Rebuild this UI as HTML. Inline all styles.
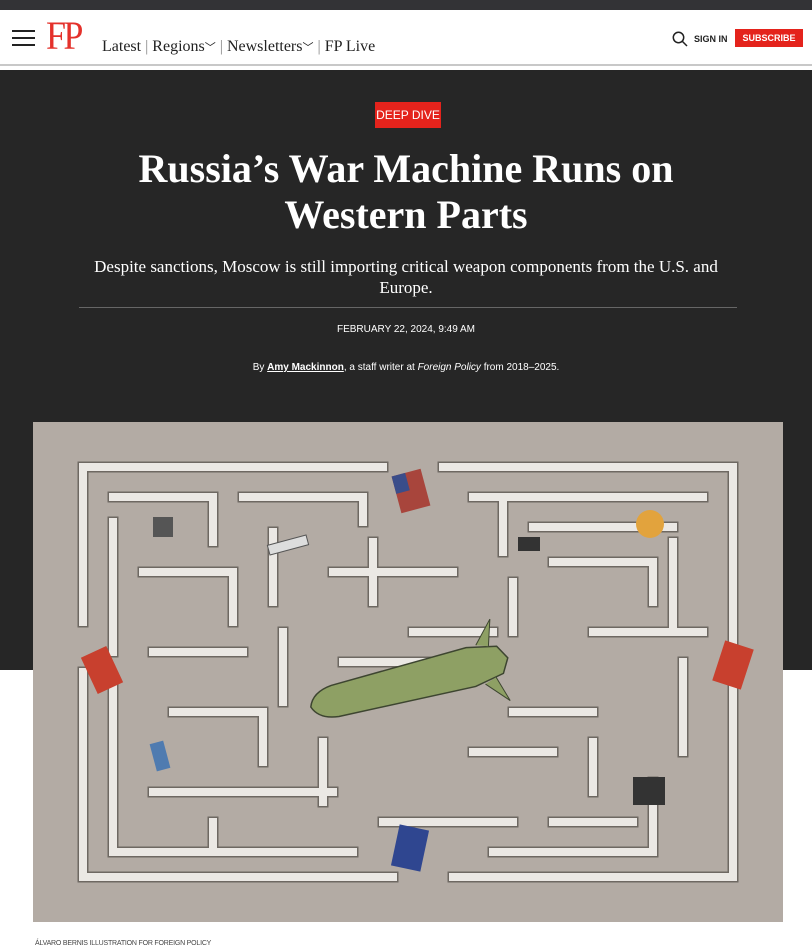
<!DOCTYPE html>
<html><head><meta charset="utf-8"><style>
*{margin:0;padding:0;box-sizing:border-box}
body{width:812px;height:950px;background:#fff;position:relative;overflow:hidden;font-family:"Liberation Serif",serif}
.top{position:absolute;left:0;top:0;width:812px;height:10px;background:#333336}
.hdr{position:absolute;left:0;top:10px;width:812px;height:56px;background:#fff;border-bottom:2px solid #c8c8c8}
.dark{position:absolute;left:0;top:70px;width:812px;height:600px;background:#262626}
.nav{position:absolute;top:37px;font-size:16px;color:#222}
.c{position:absolute;left:0;width:812px;text-align:center;color:#fff}
</style></head><body>
<div class="top"></div>
<div class="hdr">
 <div style="position:absolute;left:12px;top:20px;width:23px;height:2px;background:#222;box-shadow:0 7px 0 #222,0 14px 0 #222"></div>
 <div style="position:absolute;left:46px;top:6px;font-size:40px;color:#e4312b;letter-spacing:-3px;line-height:40px;transform:scaleX(0.9);transform-origin:left">FP</div>
 <div class="nav" style="left:102px;top:28px">Latest <span style="color:#888">|</span> Regions<span style="font-size:11px">﹀</span> <span style="color:#888">|</span> Newsletters<span style="font-size:11px">﹀</span> <span style="color:#888">|</span> FP Live</div>
 <svg style="position:absolute;left:672px;top:21px" width="16" height="16"><circle cx="6.5" cy="6.5" r="5.2" fill="none" stroke="#222" stroke-width="1.5"/><line x1="10.5" y1="10.5" x2="15" y2="15" stroke="#222" stroke-width="1.5"/></svg>
 <div style="position:absolute;left:694px;top:24px;font:bold 9px 'Liberation Sans',sans-serif;color:#222">SIGN IN</div>
 <div style="position:absolute;left:735px;top:19px;width:68px;height:18px;background:#e4231c;color:#fff;font:bold 9px 'Liberation Sans',sans-serif;text-align:center;line-height:18px">SUBSCRIBE</div>
</div>
<div class="dark"></div>
<div style="position:absolute;left:375px;top:102px;width:66px;height:26px;background:#e4231c;color:#fff;font:12px 'Liberation Sans',sans-serif;text-align:center;line-height:26px">DEEP DIVE</div>
<div class="c" style="top:146px;font-size:40px;font-weight:bold;line-height:46px">Russia’s War Machine Runs on<br>Western Parts</div>
<div class="c" style="top:256px;font-size:17px;line-height:21px;padding:0 80px">Despite sanctions, Moscow is still importing critical weapon components from the U.S. and Europe.</div>
<div style="position:absolute;left:79px;top:307px;width:658px;height:1px;background:#666"></div>
<div class="c" style="top:324px;font:10px 'Liberation Sans',sans-serif">FEBRUARY 22, 2024, 9:49 AM</div>
<div class="c" style="top:362px;font:10px 'Liberation Sans',sans-serif">By <u style="font-weight:bold">Amy Mackinnon</u>, a staff writer at <i>Foreign Policy</i> from 2018–2025.</div>
<svg style="position:absolute;left:33px;top:422px" width="750" height="500" viewBox="0 0 750 500">
<rect width="750" height="500" fill="#b3aba4"/>
<g fill="none" stroke="#6e6862" stroke-width="11" stroke-linecap="square">
<path d="M50 45H350M410 45H700V455H420M360 455H50V250M50 200V45"/>
<path d="M80 75H180V120M210 75H330V100M440 75H670M470 75V130M500 105H640M80 100V230M80 260V430H320M110 150H200V200M240 110V180M120 230H210M250 210V280M140 290H230V340M120 370H300M180 400V430M300 150H420M340 120V180M480 160V210M520 140H620V180M560 210H670M380 210H460M650 240V330M620 360V430M520 400H600M460 430H620M350 400H480M290 320V380M310 240H400M480 290H560M560 320V370M440 330H520M640 120V210"/>
</g>
<g fill="none" stroke="#ebe8e4" stroke-width="8" stroke-linecap="square">
<path d="M50 45H350M410 45H700V455H420M360 455H50V250M50 200V45"/>
<path d="M80 75H180V120M210 75H330V100M440 75H670M470 75V130M500 105H640M80 100V230M80 260V430H320M110 150H200V200M240 110V180M120 230H210M250 210V280M140 290H230V340M120 370H300M180 400V430M300 150H420M340 120V180M480 160V210M520 140H620V180M560 210H670M380 210H460M650 240V330M620 360V430M520 400H600M460 430H620M350 400H480M290 320V380M310 240H400M480 290H560M560 320V370M440 330H520M640 120V210"/>
</g>
<g transform="rotate(-14 370 262)">
<path d="M275 262 Q280 248 300 246 L440 242 L470 248 L478 262 L470 276 L440 282 L300 278 Q280 276 275 262Z" fill="#8ea064" stroke="#3d4530" stroke-width="1.5"/>
<path d="M450 242 L470 220 L462 246M450 282 L470 304 L462 278" fill="#8ea064" stroke="#3d4530"/>
</g>
<rect x="55" y="228" width="28" height="40" fill="#c8402e" transform="rotate(-25 69 248)"/>
<rect x="685" y="222" width="30" height="42" fill="#c8402e" transform="rotate(18 700 243)"/>
<rect x="363" y="50" width="30" height="38" fill="#a8453c" transform="rotate(-15 378 69)"/>
<rect x="363" y="50" width="14" height="18" fill="#3a4d8a" transform="rotate(-15 378 69)"/>
<rect x="362" y="405" width="30" height="42" fill="#2f4690" transform="rotate(12 377 426)"/>
<rect x="120" y="95" width="20" height="20" fill="#555"/>
<ellipse cx="617" cy="102" rx="14" ry="14" fill="#e2a33d"/>
<rect x="120" y="320" width="14" height="28" fill="#4f7bb0" transform="rotate(-15 127 334)"/>
<rect x="600" y="355" width="32" height="28" fill="#333"/>
<rect x="485" y="115" width="22" height="14" fill="#333"/>
<rect x="235" y="118" width="40" height="10" fill="#ddd" stroke="#555" transform="rotate(-15 255 123)"/>
</svg>
<div style="position:absolute;left:35px;top:940px;font:7px 'Liberation Sans',sans-serif;color:#444;letter-spacing:-0.2px">ÁLVARO BERNIS ILLUSTRATION FOR FOREIGN POLICY</div>
</body></html>
